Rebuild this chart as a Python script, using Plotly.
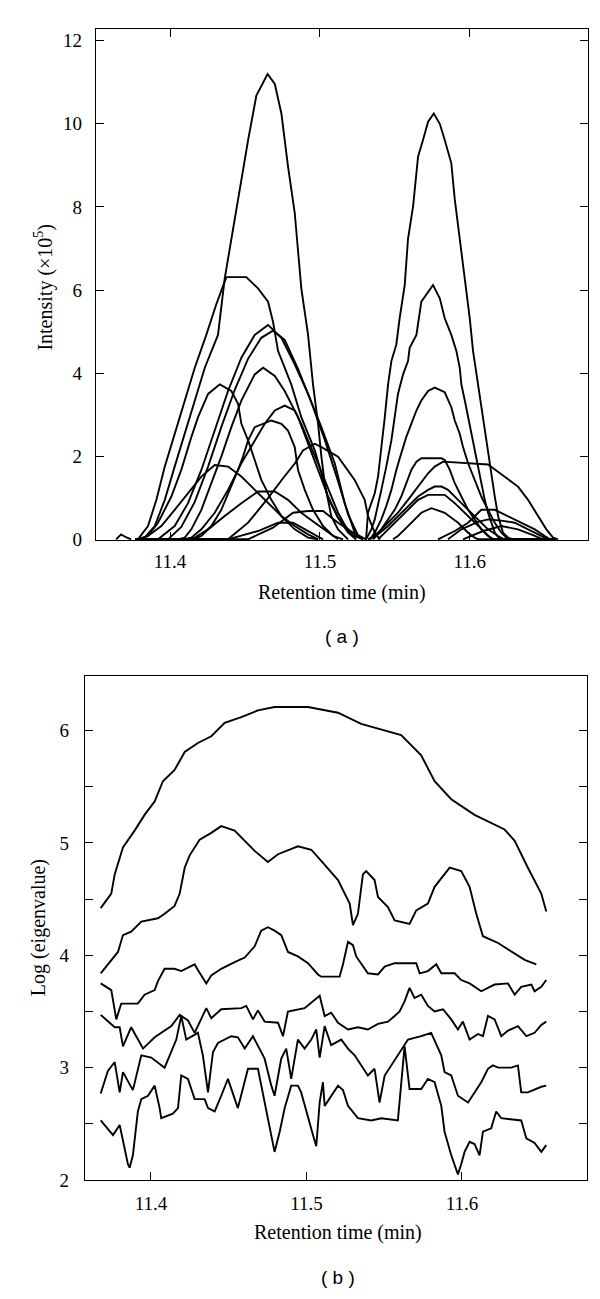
import plotly.graph_objects as go

# ---------------- (a) chromatogram: intensity (x10^5) vs retention time ----------------
T_START = 11.377
T_END = 11.657

c1_t = [11.3820, 11.3898, 11.3965, 11.4031, 11.4098, 11.4165, 11.4232, 11.4320, 11.4365, 11.4432, 11.4476, 11.4521, 11.4576, 11.4651, 11.4699, 11.4743, 11.4787, 11.4832, 11.4876, 11.4921, 11.4954, 11.4988, 11.5010, 11.5032, 11.5076, 11.5121, 11.5188]
c1_y = [0, 0.32, 0.95, 1.75, 2.54, 3.34, 4.13, 4.92, 6.28, 7.71, 8.66, 9.61, 10.68, 11.2, 10.96, 10.25, 8.98, 7.86, 6.04, 4.92, 3.73, 2.78, 1.99, 1.35, 0.56, 0.24, 0]

c2_t = [11.3786, 11.3853, 11.3909, 11.3965, 11.4031, 11.4098, 11.4165, 11.4242, 11.4307, 11.4354, 11.4376, 11.4509, 11.4587, 11.4654, 11.4687, 11.4721, 11.4809, 11.4876, 11.4966, 11.5010, 11.5054, 11.5121, 11.5221, 11.5288]
c2_y = [0, 0.32, 0.95, 1.75, 2.54, 3.34, 4.13, 4.92, 5.64, 6.10, 6.31, 6.31, 6.04, 5.72, 5.24, 4.53, 3.73, 2.94, 2.14, 1.59, 1.00, 0.52, 0.10, 0]

c3_t = [11.3920, 11.4031, 11.4120, 11.4209, 11.4298, 11.4387, 11.4476, 11.4565, 11.4654, 11.4743, 11.4832, 11.4921, 11.5010, 11.5099, 11.5166, 11.5232, 11.5288]
c3_y = [0, 0.32, 0.87, 1.67, 2.62, 3.57, 4.37, 4.92, 5.16, 4.85, 4.21, 3.50, 2.70, 1.83, 0.87, 0.16, 0]

c4_t = [11.3987, 11.4075, 11.4165, 11.4254, 11.4342, 11.4432, 11.4521, 11.4609, 11.4687, 11.4765, 11.4854, 11.4943, 11.5032, 11.5121, 11.5188, 11.5254, 11.5308]
c4_y = [0, 0.30, 0.90, 1.75, 2.70, 3.60, 4.35, 4.85, 5.02, 4.80, 4.10, 3.30, 2.40, 1.40, 0.60, 0.10, 0]

c5_t = [11.4053, 11.4098, 11.4142, 11.4209, 11.4276, 11.4342, 11.4409, 11.4476, 11.4565, 11.4621, 11.4699, 11.4765, 11.4854, 11.4921, 11.4988, 11.5054, 11.5121, 11.5188, 11.5241]
c5_y = [0, 0.04, 0.24, 0.71, 1.35, 1.99, 2.70, 3.34, 3.97, 4.13, 3.93, 3.57, 2.94, 2.30, 1.67, 1.04, 0.52, 0.16, 0]

c6_t = [11.3786, 11.3853, 11.3920, 11.4009, 11.4075, 11.4142, 11.4187, 11.4254, 11.4332, 11.4409, 11.4454, 11.4476, 11.4521, 11.4565, 11.4609, 11.4676, 11.4743, 11.4832, 11.4921, 11.4988]
c6_y = [0, 0.08, 0.40, 1.03, 1.67, 2.46, 2.94, 3.50, 3.73, 3.57, 3.26, 2.78, 2.38, 1.91, 1.43, 0.95, 0.56, 0.24, 0.04, 0]

c7_t = [11.4087, 11.4142, 11.4209, 11.4298, 11.4387, 11.4476, 11.4565, 11.4632, 11.4699, 11.4765, 11.4832, 11.4876, 11.4921, 11.4988, 11.5054, 11.5121, 11.5188, 11.5241]
c7_y = [0, 0.04, 0.24, 0.64, 1.19, 1.83, 2.38, 2.78, 3.10, 3.22, 3.10, 2.78, 2.38, 1.83, 1.23, 0.64, 0.20, 0]

c8_t = [11.4153, 11.4209, 11.4276, 11.4342, 11.4409, 11.4454, 11.4487, 11.4521, 11.4565, 11.4676, 11.4743, 11.4787, 11.4832, 11.4854, 11.4899, 11.4954, 11.5021, 11.5088, 11.5154]
c8_y = [0, 0.08, 0.32, 0.71, 1.27, 1.67, 1.99, 2.38, 2.70, 2.86, 2.78, 2.62, 2.22, 1.67, 1.19, 0.71, 0.32, 0.08, 0]

c9_t = [11.4387, 11.4521, 11.4654, 11.4754, 11.4834, 11.4887, 11.4966, 11.5010, 11.5121, 11.5232, 11.5299, 11.5321, 11.5366, 11.5401]
c9_y = [0, 0.40, 0.99, 1.47, 1.83, 2.14, 2.30, 2.22, 1.99, 1.43, 0.95, 0.56, 0.16, 0]

c10_t = [11.3786, 11.3853, 11.3942, 11.4031, 11.4120, 11.4209, 11.4298, 11.4387, 11.4476, 11.4565, 11.4654, 11.4743, 11.4832, 11.4921, 11.4988]
c10_y = [0, 0.08, 0.32, 0.71, 1.11, 1.51, 1.79, 1.75, 1.51, 1.19, 0.87, 0.56, 0.32, 0.12, 0]

c11_t = [11.4120, 11.4165, 11.4254, 11.4365, 11.4476, 11.4587, 11.4699, 11.4787, 11.4876, 11.4966, 11.5054, 11.5121]
c11_y = [0, 0.04, 0.24, 0.56, 0.87, 1.15, 1.15, 0.95, 0.64, 0.40, 0.16, 0]

c12_t = [11.4521, 11.4687, 11.4821, 11.4921, 11.5021, 11.5121, 11.5221, 11.5288]
c12_y = [0, 0.28, 0.64, 0.68, 0.68, 0.40, 0.16, 0]

c13_t = [11.4387, 11.4587, 11.4721, 11.4821, 11.4921, 11.5021]
c13_y = [0, 0.20, 0.40, 0.40, 0.20, 0]

c14_t = [11.3640, 11.3673, 11.3706, 11.3740]
c14_y = [0, 0.12, 0.05, 0]

d1_t = [11.5308, 11.5321, 11.5343, 11.5366, 11.5388, 11.5410, 11.5433, 11.5455, 11.5477, 11.5510, 11.5532, 11.5566, 11.5588, 11.5622, 11.5644, 11.5655, 11.5688, 11.5722, 11.5760, 11.5800, 11.5833, 11.5877, 11.5900, 11.5933, 11.5967, 11.5989, 11.6000, 11.6022, 11.6055, 11.6089, 11.6122, 11.6144, 11.6167, 11.6189, 11.6222, 11.6256, 11.6289]
d1_y = [0, 0.64, 0.87, 1.11, 1.51, 2.14, 2.94, 3.73, 4.29, 4.69, 5.32, 6.12, 7.23, 8.02, 8.82, 9.21, 9.61, 10.05, 10.25, 10.00, 9.61, 9.05, 8.18, 7.23, 6.35, 5.72, 5.32, 4.53, 3.73, 2.94, 2.14, 1.51, 1.03, 0.56, 0.16, 0.04, 0]

d2_t = [11.5308, 11.5343, 11.5366, 11.5388, 11.5410, 11.5443, 11.5477, 11.5499, 11.5521, 11.5555, 11.5588, 11.5599, 11.5644, 11.5677, 11.5755, 11.5800, 11.5833, 11.5877, 11.5911, 11.5933, 11.5944, 11.5967, 11.5989, 11.6011, 11.6033, 11.6055, 11.6077, 11.6100, 11.6122, 11.6144, 11.6167, 11.6202]
d2_y = [0, 0.24, 0.48, 0.80, 1.19, 1.75, 2.38, 2.94, 3.50, 3.97, 4.29, 4.61, 4.92, 5.72, 6.12, 5.80, 5.32, 4.92, 4.53, 4.13, 3.73, 3.34, 2.94, 2.54, 2.14, 1.75, 1.35, 0.95, 0.64, 0.40, 0.16, 0]

d3_t = [11.5334, 11.5366, 11.5410, 11.5443, 11.5477, 11.5510, 11.5543, 11.5576, 11.5610, 11.5644, 11.5677, 11.5722, 11.5766, 11.5833, 11.5877, 11.5900, 11.5933, 11.5955, 11.5989, 11.6033, 11.6077, 11.6122, 11.6167, 11.6211, 11.6256]
d3_y = [0, 0.16, 0.48, 0.80, 1.19, 1.67, 2.07, 2.46, 2.78, 3.10, 3.34, 3.57, 3.65, 3.54, 3.18, 2.86, 2.54, 2.22, 1.83, 1.43, 1.03, 0.71, 0.40, 0.16, 0]

d4_t = [11.5334, 11.5366, 11.5410, 11.5455, 11.5499, 11.5543, 11.5576, 11.5610, 11.5644, 11.5677, 11.5811, 11.5833, 11.5867, 11.5900, 11.5944, 11.5989, 11.6033, 11.6077, 11.6122, 11.6162]
d4_y = [0, 0.08, 0.24, 0.48, 0.71, 1.03, 1.35, 1.67, 1.87, 1.95, 1.95, 1.91, 1.67, 1.35, 1.03, 0.71, 0.48, 0.24, 0.08, 0]

d5_t = [11.5321, 11.5343, 11.5388, 11.5455, 11.5521, 11.5588, 11.5655, 11.5722, 11.5766, 11.5822, 11.6122, 11.6189, 11.6256, 11.6322, 11.6389, 11.6456, 11.6511, 11.6556, 11.6589]
d5_y = [0, 0.04, 0.16, 0.40, 0.64, 0.95, 1.27, 1.59, 1.75, 1.87, 1.80, 1.62, 1.43, 1.27, 0.95, 0.56, 0.24, 0.04, 0]

d6_t = [11.5355, 11.5388, 11.5455, 11.5521, 11.5588, 11.5655, 11.5722, 11.5766, 11.5811, 11.5855, 11.5922, 11.5989, 11.6055, 11.6122, 11.6189, 11.6229]
d6_y = [0, 0.12, 0.32, 0.56, 0.80, 1.03, 1.19, 1.27, 1.27, 1.19, 0.95, 0.71, 0.48, 0.24, 0.08, 0]

d7_t = [11.5388, 11.5410, 11.5455, 11.5521, 11.5588, 11.5655, 11.5722, 11.5833, 11.5900, 11.5967, 11.6033, 11.6100, 11.6149]
d7_y = [0, 0.08, 0.24, 0.48, 0.71, 0.95, 1.07, 1.07, 0.87, 0.64, 0.40, 0.16, 0]

d8_t = [11.5488, 11.5521, 11.5566, 11.5633, 11.5677, 11.5744, 11.5833, 11.5922, 11.5989, 11.6033, 11.6055]
d8_y = [0, 0.08, 0.24, 0.48, 0.64, 0.75, 0.64, 0.40, 0.16, 0.04, 0]

d9_t = [11.5788, 11.5833, 11.5900, 11.5989, 11.6033, 11.6077, 11.6167, 11.6256, 11.6344, 11.6434, 11.6500, 11.6536]
d9_y = [0, 0.08, 0.20, 0.40, 0.56, 0.71, 0.71, 0.56, 0.40, 0.24, 0.08, 0]

d10_t = [11.5855, 11.5944, 11.6055, 11.6122, 11.6211, 11.6300, 11.6389, 11.6476, 11.6523]
d10_y = [0, 0.24, 0.42, 0.48, 0.45, 0.40, 0.24, 0.08, 0]

d11_t = [11.5955, 11.6089, 11.6211, 11.6322, 11.6422, 11.6489]
d11_y = [0, 0.20, 0.32, 0.24, 0.10, 0]

chrom_curves = [
    (c1_t, c1_y), (c2_t, c2_y), (c3_t, c3_y), (c4_t, c4_y), (c5_t, c5_y),
    (c6_t, c6_y), (c7_t, c7_y), (c8_t, c8_y), (c9_t, c9_y), (c10_t, c10_y),
    (c11_t, c11_y), (c12_t, c12_y), (c13_t, c13_y), (c14_t, c14_y),
    (d1_t, d1_y), (d2_t, d2_y), (d3_t, d3_y), (d4_t, d4_y), (d5_t, d5_y),
    (d6_t, d6_y), (d7_t, d7_y), (d8_t, d8_y), (d9_t, d9_y), (d10_t, d10_y),
    (d11_t, d11_y),
]

# ---------------- (b) log eigenvalue vs retention time ----------------
e1_t = [11.3677, 11.3745, 11.3767, 11.3820, 11.3895, 11.3959, 11.4024, 11.4077, 11.4152, 11.4217, 11.4302, 11.4388, 11.4474, 11.4581, 11.4688, 11.4795, 11.5010, 11.5203, 11.5352, 11.5609, 11.5738, 11.5824, 11.5931, 11.6081, 11.6274, 11.6339, 11.6424, 11.6510, 11.6542]
e1_y = [4.42, 4.55, 4.72, 4.96, 5.11, 5.25, 5.37, 5.55, 5.65, 5.81, 5.89, 5.95, 6.07, 6.12, 6.18, 6.21, 6.21, 6.16, 6.06, 5.96, 5.78, 5.55, 5.39, 5.25, 5.12, 5.02, 4.78, 4.55, 4.39]

e2_t = [11.3677, 11.3745, 11.3788, 11.3820, 11.3873, 11.3938, 11.4045, 11.4088, 11.4152, 11.4185, 11.4217, 11.4249, 11.4313, 11.4388, 11.4452, 11.4538, 11.4581, 11.4667, 11.4752, 11.4817, 11.4945, 11.5031, 11.5095, 11.5203, 11.5278, 11.5299, 11.5331, 11.5363, 11.5384, 11.5438, 11.5460, 11.5524, 11.5567, 11.5663, 11.5706, 11.5781, 11.5824, 11.5888, 11.5921, 11.5995, 11.6049, 11.6092, 11.6135, 11.6232, 11.6339, 11.6403, 11.6478]
e2_y = [3.84, 3.96, 4.03, 4.18, 4.21, 4.30, 4.33, 4.37, 4.44, 4.55, 4.78, 4.89, 5.03, 5.09, 5.15, 5.11, 5.05, 4.93, 4.83, 4.90, 4.97, 4.94, 4.84, 4.67, 4.46, 4.27, 4.37, 4.72, 4.75, 4.67, 4.52, 4.43, 4.31, 4.28, 4.40, 4.46, 4.61, 4.72, 4.78, 4.75, 4.61, 4.37, 4.17, 4.11, 4.02, 3.96, 3.92]

e3_t = [11.3677, 11.3745, 11.3777, 11.3809, 11.3916, 11.3959, 11.4024, 11.4045, 11.4088, 11.4152, 11.4195, 11.4281, 11.4302, 11.4356, 11.4388, 11.4452, 11.4538, 11.4603, 11.4667, 11.4709, 11.4752, 11.4795, 11.4838, 11.4881, 11.4945, 11.5010, 11.5074, 11.5095, 11.5213, 11.5235, 11.5267, 11.5299, 11.5320, 11.5395, 11.5460, 11.5503, 11.5567, 11.5706, 11.5728, 11.5781, 11.5835, 11.5867, 11.5953, 11.5995, 11.6049, 11.6124, 11.6210, 11.6296, 11.6339, 11.6381, 11.6446, 11.6467, 11.6510, 11.6542]
e3_y = [3.75, 3.69, 3.43, 3.57, 3.57, 3.65, 3.69, 3.77, 3.88, 3.88, 3.86, 3.92, 3.87, 3.75, 3.82, 3.88, 3.94, 3.98, 4.08, 4.22, 4.25, 4.22, 4.18, 4.03, 3.99, 3.93, 3.83, 3.81, 3.81, 3.92, 4.12, 4.09, 3.99, 3.84, 3.83, 3.90, 3.93, 3.93, 3.84, 3.86, 3.92, 3.84, 3.84, 3.78, 3.75, 3.68, 3.74, 3.75, 3.65, 3.72, 3.74, 3.68, 3.72, 3.78]

e4_t = [11.3677, 11.3767, 11.3799, 11.3820, 11.3873, 11.3916, 11.3949, 11.4024, 11.4088, 11.4131, 11.4185, 11.4238, 11.4281, 11.4356, 11.4388, 11.4452, 11.4581, 11.4613, 11.4656, 11.4688, 11.4731, 11.4817, 11.4849, 11.4881, 11.4988, 11.5031, 11.5085, 11.5117, 11.5159, 11.5203, 11.5267, 11.5331, 11.5395, 11.5460, 11.5524, 11.5567, 11.5599, 11.5631, 11.5663, 11.5695, 11.5738, 11.5781, 11.5824, 11.5878, 11.5931, 11.5974, 11.6006, 11.6049, 11.6103, 11.6135, 11.6167, 11.6210, 11.6253, 11.6296, 11.6360, 11.6414, 11.6467, 11.6510, 11.6542]
e4_y = [3.47, 3.36, 3.36, 3.19, 3.36, 3.25, 3.17, 3.27, 3.33, 3.37, 3.47, 3.42, 3.31, 3.53, 3.44, 3.52, 3.53, 3.55, 3.43, 3.51, 3.41, 3.40, 3.28, 3.50, 3.53, 3.58, 3.64, 3.46, 3.49, 3.40, 3.34, 3.36, 3.34, 3.39, 3.41, 3.46, 3.50, 3.59, 3.71, 3.62, 3.65, 3.55, 3.50, 3.52, 3.43, 3.34, 3.41, 3.25, 3.30, 3.28, 3.46, 3.43, 3.28, 3.33, 3.37, 3.28, 3.31, 3.38, 3.41]

e5_t = [11.3677, 11.3723, 11.3767, 11.3799, 11.3820, 11.3884, 11.3938, 11.4002, 11.4088, 11.4141, 11.4163, 11.4195, 11.4227, 11.4302, 11.4334, 11.4367, 11.4399, 11.4431, 11.4516, 11.4559, 11.4603, 11.4656, 11.4731, 11.4774, 11.4795, 11.4838, 11.4870, 11.4902, 11.4945, 11.4988, 11.5031, 11.5063, 11.5085, 11.5117, 11.5159, 11.5224, 11.5267, 11.5310, 11.5352, 11.5395, 11.5438, 11.5470, 11.5503, 11.5545, 11.5599, 11.5653, 11.5738, 11.5802, 11.5867, 11.5888, 11.5931, 11.5974, 11.6039, 11.6081, 11.6124, 11.6167, 11.6199, 11.6232, 11.6317, 11.6360, 11.6381, 11.6424, 11.6510, 11.6542]
e5_y = [2.77, 2.97, 3.05, 2.78, 2.96, 2.80, 3.11, 3.09, 3.00, 3.17, 3.25, 3.46, 3.25, 3.31, 3.11, 2.78, 3.14, 3.22, 3.28, 3.27, 3.17, 3.28, 3.08, 2.84, 2.75, 3.08, 3.17, 2.90, 3.25, 3.17, 3.25, 3.34, 3.09, 3.37, 3.20, 3.25, 3.17, 3.11, 3.02, 2.93, 2.99, 2.69, 2.93, 3.02, 3.14, 3.25, 3.28, 3.31, 3.11, 2.96, 2.93, 2.75, 2.69, 2.78, 2.87, 2.99, 3.02, 3.00, 3.00, 3.02, 2.78, 2.78, 2.83, 2.84]

e6_t = [11.3677, 11.3723, 11.3756, 11.3799, 11.3820, 11.3852, 11.3863, 11.3884, 11.3916, 11.3938, 11.3981, 11.4024, 11.4056, 11.4066, 11.4141, 11.4174, 11.4195, 11.4238, 11.4281, 11.4345, 11.4367, 11.4410, 11.4452, 11.4495, 11.4559, 11.4603, 11.4624, 11.4688, 11.4731, 11.4763, 11.4795, 11.4828, 11.4860, 11.4902, 11.4945, 11.4966, 11.5010, 11.5042, 11.5063, 11.5085, 11.5106, 11.5117, 11.5203, 11.5235, 11.5267, 11.5331, 11.5417, 11.5481, 11.5588, 11.5631, 11.5663, 11.5738, 11.5781, 11.5824, 11.5867, 11.5888, 11.5931, 11.5974, 11.5995, 11.6017, 11.6049, 11.6081, 11.6113, 11.6135, 11.6188, 11.6220, 11.6253, 11.6381, 11.6414, 11.6467, 11.6510, 11.6542]
e6_y = [2.53, 2.46, 2.40, 2.49, 2.35, 2.14, 2.11, 2.22, 2.61, 2.72, 2.75, 2.84, 2.64, 2.55, 2.59, 2.64, 2.93, 2.90, 2.72, 2.72, 2.64, 2.61, 2.75, 2.90, 2.64, 2.87, 2.99, 2.99, 2.69, 2.46, 2.25, 2.43, 2.64, 2.84, 2.84, 2.78, 2.55, 2.40, 2.30, 2.69, 2.87, 2.66, 2.84, 2.80, 2.66, 2.55, 2.53, 2.55, 2.53, 3.19, 2.81, 2.81, 2.90, 2.87, 2.66, 2.43, 2.22, 2.05, 2.14, 2.25, 2.34, 2.32, 2.22, 2.43, 2.46, 2.61, 2.55, 2.53, 2.37, 2.33, 2.25, 2.31]

eig_lines = [(e1_t, e1_y), (e2_t, e2_y), (e3_t, e3_y), (e4_t, e4_y), (e5_t, e5_y), (e6_t, e6_y)]

# tick definitions
a_xticks = [11.4, 11.5, 11.6]
a_yticks = [0, 2, 4, 6, 8, 10, 12]
b_xticks = [11.4, 11.5, 11.6]
b_yticks = [2, 3, 4, 5, 6]

W, H = 600, 1299
LINE = dict(color="black", width=1.9)

fig = go.Figure()

for t, y in chrom_curves:
    tt, yy = list(t), list(y)
    if tt[0] > T_START and tt[0] < 11.5:
        tt = [T_START] + tt
        yy = [0] + yy
    if tt[-1] < T_END and tt[0] > 11.52:
        tt = tt + [T_END]
        yy = yy + [0]
    fig.add_trace(go.Scatter(x=tt, y=yy, mode="lines", line=LINE,
                             xaxis="x", yaxis="y", showlegend=False, hoverinfo="skip"))

for t, y in eig_lines:
    fig.add_trace(go.Scatter(x=t, y=y, mode="lines", line=LINE,
                             xaxis="x2", yaxis="y2", showlegend=False, hoverinfo="skip"))

serif = "Liberation Serif, DejaVu Serif, serif"
sans = "Liberation Sans, Arial, sans-serif"
tickfont = dict(family=serif, size=19, color="black")
axis_common = dict(showline=True, linecolor="black", linewidth=1.3, showgrid=False,
                   zeroline=False, ticks="inside", tickcolor="black", tickwidth=1.2,
                   ticklen=8, tickfont=tickfont)

fig.update_layout(
    width=W, height=H,
    margin=dict(l=0, r=0, t=0, b=0),
    paper_bgcolor="white", plot_bgcolor="white",
    xaxis=dict(domain=[88 / W, 580 / W], range=[11.3506, 11.6789], anchor="y",
               tickvals=a_xticks, ticktext=["11.4", "11.5", "11.6"],
               mirror="ticks", ticklabelstandoff=4, **axis_common),
    yaxis=dict(domain=[1 - 536.7 / H, 1 - 21 / H], range=[-0.02, 12.287], anchor="x",
               tickvals=a_yticks, mirror="ticks", ticklabelstandoff=9,
               **axis_common),
    xaxis2=dict(domain=[77 / W, 579 / W], range=[11.3576, 11.6804], anchor="y2",
                tickvals=b_xticks, ticktext=["11.4", "11.5", "11.6"],
                mirror=True, ticklabelstandoff=6, **axis_common),
    yaxis2=dict(domain=[1 - 1182 / H, 1 - 674 / H], range=[2, 6.484], anchor="x2",
                tickvals=b_yticks, mirror="ticks", ticklabelstandoff=11,
                minor=dict(dtick=0.5, tick0=2, ticks="inside", ticklen=8,
                           tickcolor="black", tickwidth=1.2, showgrid=False),
                **axis_common),
)

ann = [
    dict(text="Intensity (×10<sup>5</sup>)", x=36 / W, y=1 - 282 / H, textangle=-90,
         font=dict(family=serif, size=20, color="black")),
    dict(text="Retention time (min)", x=334 / W, y=1 - 589 / H,
         font=dict(family=serif, size=20, color="black")),
    dict(text="( a )", x=334 / W, y=1 - 634 / H,
         font=dict(family=sans, size=19, color="black")),
    dict(text="Log (eigenvalue)", x=30 / W, y=1 - 928 / H, textangle=-90,
         font=dict(family=serif, size=20, color="black")),
    dict(text="Retention time (min)", x=330 / W, y=1 - 1235 / H,
         font=dict(family=serif, size=20, color="black")),
    dict(text="( b )", x=330 / W, y=1 - 1280 / H,
         font=dict(family=sans, size=19, color="black")),
]
for a in ann:
    a.update(xref="paper", yref="paper", showarrow=False, xanchor="center", yanchor="middle")
fig.update_layout(annotations=ann)

fig.write_html("out.html")
